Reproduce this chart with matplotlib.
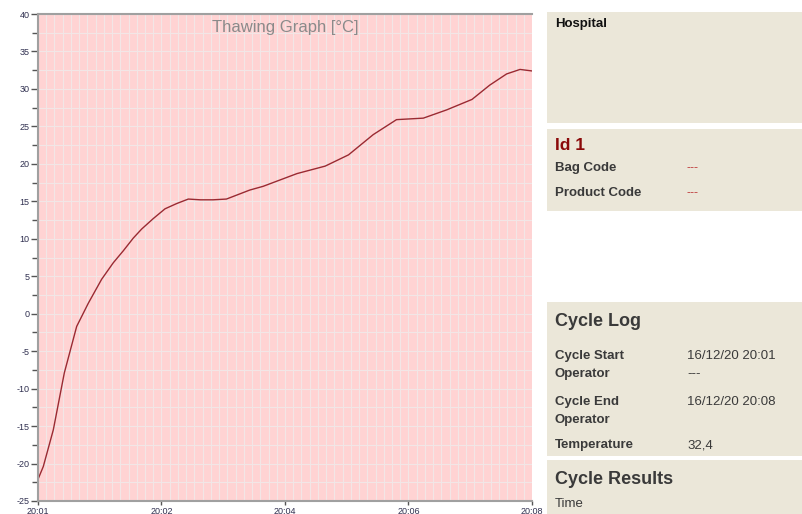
import matplotlib
matplotlib.use('Agg')
import matplotlib.pyplot as plt
from matplotlib.patches import Rectangle
from matplotlib.ticker import MultipleLocator

plt.rcParams['font.family'] = ['Liberation Sans', 'DejaVu Sans']
plt.rcParams['axes.unicode_minus'] = False

# thawing curve, x = minutes on the axis (0 = 20:01, 7 = 20:08)
minutes = [0, 0.075, 0.217, 0.373, 0.548, 0.713, 0.902, 1.067, 1.209, 1.351, 1.469,
           1.634, 1.80, 1.965, 2.13, 2.30, 2.48, 2.67, 3.00, 3.19, 3.67, 4.07,
           4.40, 4.75, 5.08, 5.46, 5.79, 6.15, 6.40, 6.64, 6.83, 7.0]
temp = [-22.1, -20.4, -15.5, -7.9, -1.7, 1.4, 4.6, 6.8, 8.4, 10.1, 11.3,
        12.7, 14.0, 14.7, 15.3, 15.2, 15.2, 15.3, 16.5, 17.0, 18.7, 19.7,
        21.2, 23.9, 25.9, 26.1, 27.2, 28.6, 30.5, 32.0, 32.6, 32.4]
xtick_pos = [0, 1.75, 3.5, 5.25, 7]
xtick_labels = ['20:01', '20:02', '20:04', '20:06', '20:08']

id_rows = [('Bag Code', '---'), ('Product Code', '---')]
log_rows = [('Cycle Start', '16/12/20 20:01', 354), ('Operator', '---', 372),
            ('Cycle End', '16/12/20 20:08', 400), ('Operator', '', 418),
            ('Temperature', '32,4', 443)]

W, H = 803, 514
fig = plt.figure(figsize=(W / 100, H / 100), dpi=100)

def fx(x):
    return x / W

def fy(y):
    # text centres sit ~2px low in the screenshot compared to va='center'
    return 1 - y / H

def ty(y):
    return 1 - (y + 2) / H

ax = fig.add_axes([fx(38), fy(501), fx(532) - fx(38), fy(14) - fy(501)])
ax.set_facecolor('#ffd3d3')
ax.plot(minutes, temp, color='#9a2a32', lw=1.0)
ax.set_xlim(0, 7)
ax.set_ylim(-25, 40)
ax.yaxis.set_major_locator(MultipleLocator(5))
ax.yaxis.set_minor_locator(MultipleLocator(2.5))
ax.xaxis.set_minor_locator(MultipleLocator(7 / 60))
ax.set_xticks(xtick_pos)
ax.set_xticklabels(xtick_labels)
ax.grid(which='both', color='#f2e6e6', lw=0.8)
ax.set_axisbelow(True)
ax.tick_params(axis='y', which='major', length=5, width=1, color='#555555',
               labelsize=6.5, labelcolor='#303050', pad=1)
ax.tick_params(axis='y', which='minor', length=4, width=1, color='#555555')
ax.tick_params(axis='x', which='major', length=3, width=1, color='#555555',
               labelsize=6.5, labelcolor='#303050', pad=1)
ax.tick_params(axis='x', which='minor', length=0)
for side in ['left', 'top', 'bottom']:
    ax.spines[side].set_color('#a0a0a0')
    ax.spines[side].set_linewidth(1.5)
ax.spines['right'].set_visible(False)
ax.text(0.5, 0.988, 'Thawing Graph [°C]', transform=ax.transAxes, ha='center',
        va='top', fontsize=12, color='#8a8a8a')

# right side panels
panel_color = '#ebe7d9'
for top, bottom in [(12, 123), (129, 211), (302, 456), (460, 514)]:
    fig.add_artist(Rectangle((fx(547), fy(bottom)), fx(803) - fx(547), fy(top) - fy(bottom),
                             transform=fig.transFigure, color=panel_color, lw=0))

lx = fx(555)
vx = fx(687)
fig.text(lx, ty(22), 'Hospital', fontsize=9.5, fontweight='bold', color='#111111', va='center')
fig.text(lx, ty(143), 'Id 1', fontsize=12.5, fontweight='bold', color='#8b0a0a', va='center')
for (label, val), y in zip(id_rows, [166, 191]):
    fig.text(lx, ty(y), label, fontsize=9.5, fontweight='bold', color='#3a3a3a', va='center')
    fig.text(vx, ty(y), val, fontsize=9, color='#c04040', va='center')

fig.text(lx, ty(319), 'Cycle Log', fontsize=13, fontweight='bold', color='#3a3a3a', va='center')
for label, val, y in log_rows:
    fig.text(lx, ty(y), label, fontsize=9.5, fontweight='bold', color='#3a3a3a', va='center')
    fig.text(vx, ty(y), val, fontsize=9.5, color='#3a3a3a', va='center')

fig.text(lx, ty(477), 'Cycle Results', fontsize=13, fontweight='bold', color='#3a3a3a', va='center')
fig.text(lx, ty(502), 'Time', fontsize=9.5, color='#3a3a3a', va='center')

fig.savefig('out.png', dpi=100)
